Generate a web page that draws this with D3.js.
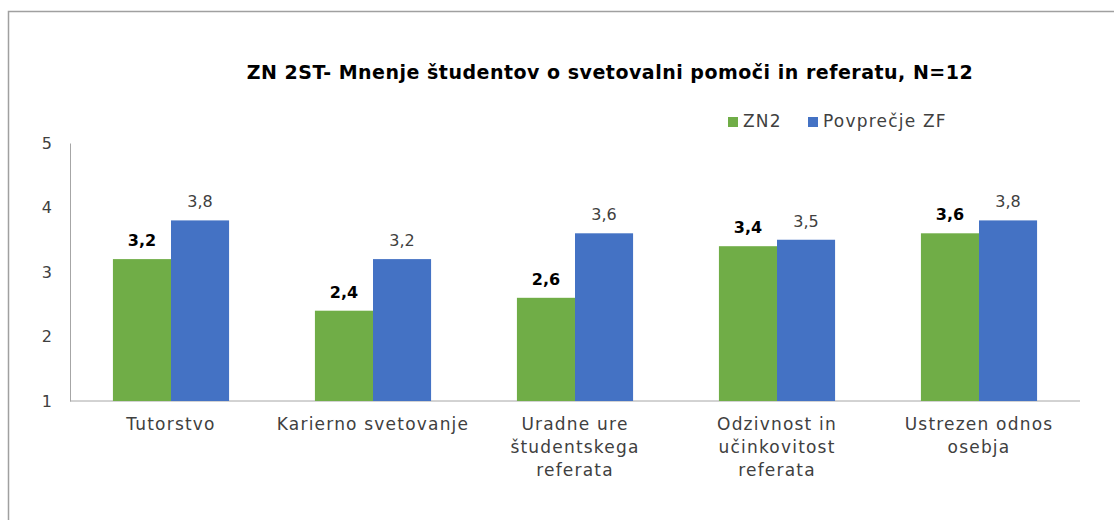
<!DOCTYPE html>
<html>
<head>
<meta charset="utf-8">
<script src="https://cdn.jsdelivr.net/npm/d3@7"></script>
<style>
  body { margin: 0; background: #fff; }
  svg { display: block; font-family: "DejaVu Sans", sans-serif; }
</style>
</head>
<body>
<div id="chart"></div>
<script>
// Chart data
const categories = [
  ["Tutorstvo"],
  ["Karierno svetovanje"],
  ["Uradne ure", "študentskega", "referata"],
  ["Odzivnost in", "učinkovitost", "referata"],
  ["Ustrezen odnos", "osebja"]
];
const seriesNames = ["ZN2", "Povprečje ZF"];
const zn2Values = [3.2, 2.4, 2.6, 3.4, 3.6];
const zfValues = [3.8, 3.2, 3.6, 3.5, 3.8];
const yTicks = [1, 2, 3, 4, 5];
const title = "ZN 2ST- Mnenje študentov o svetovalni pomoči in referatu, N=12";

const width = 1114, height = 520;
const colors = ["#70AD47", "#4472C4"];
const textColor = "#404040";
const fmt = v => String(v).replace(".", ",");

const svg = d3.select("#chart").append("svg")
  .attr("width", width)
  .attr("height", height);

// outer frame (only top and left edges show in the picture)
svg.append("rect")
  .attr("x", 8.5).attr("y", 11.5)
  .attr("width", 1300).attr("height", 700)
  .attr("fill", "none")
  .attr("stroke", "#A0A0A0")
  .attr("stroke-width", 1.5);

const x = d3.scaleBand()
  .domain(d3.range(categories.length))
  .range([70, 1080])
  .paddingInner(0.425)
  .paddingOuter(0.2125);

const x1 = d3.scaleBand()
  .domain([0, 1])
  .range([0, x.bandwidth()]);

const y = d3.scaleLinear()
  .domain([1, 5])
  .range([401, 143]);

// title
svg.append("text")
  .attr("x", 610).attr("y", 79)
  .attr("text-anchor", "middle")
  .attr("font-size", 19)
  .attr("font-weight", "bold")
  .attr("letter-spacing", 0.5)
  .attr("fill", "#000")
  .text(title);

// legend
const legendPos = [728, 808];
const legend = svg.selectAll(".legend")
  .data(seriesNames)
  .enter().append("g")
  .attr("class", "legend")
  .attr("transform", (d, i) => `translate(${legendPos[i]},117)`);
legend.append("rect")
  .attr("width", 10).attr("height", 10)
  .attr("fill", (d, i) => colors[i]);
legend.append("text")
  .attr("x", 15).attr("y", 10)
  .attr("font-size", 17)
  .attr("letter-spacing", 1.2)
  .attr("fill", textColor)
  .text(d => d);

// y axis
const yAxis = svg.append("g")
  .attr("transform", "translate(70,0)")
  .call(d3.axisLeft(y).tickValues(yTicks).tickSize(0).tickPadding(18).tickFormat(d3.format("d")));
yAxis.select(".domain").attr("stroke", "#A6A6A6");
yAxis.selectAll("text")
  .attr("font-size", 16)
  .attr("font-family", "DejaVu Sans, sans-serif")
  .attr("fill", textColor);

// x axis line
svg.append("line")
  .attr("x1", 70).attr("x2", 1080)
  .attr("y1", y(1)).attr("y2", y(1))
  .attr("stroke", "#A6A6A6");

// bars
const series = [zn2Values, zfValues];
series.forEach((vals, s) => {
  svg.append("g").selectAll("rect")
    .data(vals)
    .enter().append("rect")
    .attr("x", (d, i) => x(i) + x1(s))
    .attr("y", d => y(d))
    .attr("width", x1.bandwidth())
    .attr("height", d => y(1) - y(d))
    .attr("fill", colors[s]);

  svg.append("g").selectAll("text")
    .data(vals)
    .enter().append("text")
    .attr("x", (d, i) => x(i) + x1(s) + x1.bandwidth() / 2)
    .attr("y", d => y(d) - 13)
    .attr("text-anchor", "middle")
    .attr("font-size", 16)
    .attr("font-weight", s === 0 ? "bold" : "normal")
    .attr("fill", s === 0 ? "#000" : textColor)
    .text(fmt);
});

// category labels
const catLabels = svg.append("g").selectAll("text")
  .data(categories)
  .enter().append("text")
  .attr("text-anchor", "middle")
  .attr("font-size", 17)
  .attr("letter-spacing", 1.2)
  .attr("fill", textColor);
catLabels.selectAll("tspan")
  .data((d, i) => d.map(t => ({ t, i })))
  .enter().append("tspan")
  .attr("x", d => x(d.i) + x.bandwidth() / 2)
  .attr("y", (d, j) => 430 + j * 23)
  .text(d => d.t);
</script>
</body>
</html>
